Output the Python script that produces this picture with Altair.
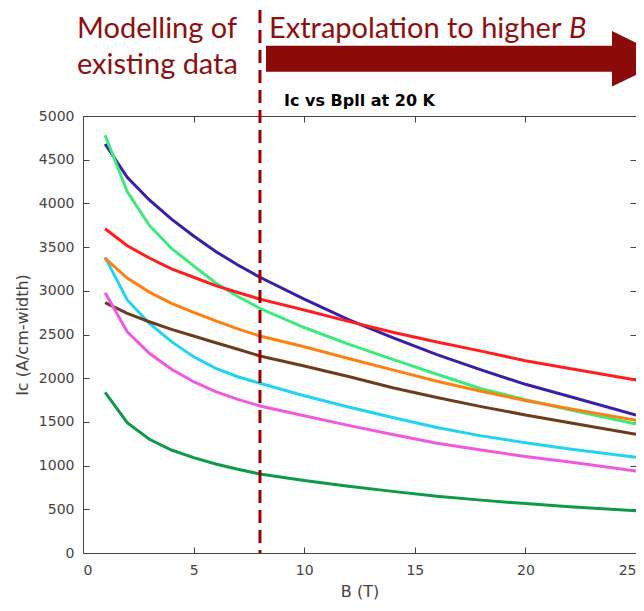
import altair as alt
import pandas as pd

# ---- data ----
B = [1, 2, 3, 4, 5, 6, 7, 8, 10, 12, 14, 16, 18, 20, 22, 25]
blue = [4680, 4298, 4039, 3820, 3627, 3450, 3295, 3155, 2905, 2670, 2465, 2270, 2095, 1930, 1790, 1579]
green = [4780, 4134, 3748, 3486, 3285, 3090, 2935, 2800, 2580, 2390, 2215, 2045, 1880, 1755, 1640, 1476]
red = [3710, 3515, 3375, 3250, 3155, 3060, 2980, 2905, 2780, 2650, 2525, 2415, 2310, 2200, 2110, 1979]
orange = [3370, 3145, 2985, 2857, 2752, 2656, 2565, 2483, 2360, 2225, 2095, 1965, 1850, 1745, 1650, 1518]
brown = [2864, 2742, 2646, 2559, 2483, 2406, 2331, 2254, 2140, 2020, 1890, 1780, 1675, 1580, 1490, 1358]
cyan = [3383, 2895, 2628, 2418, 2246, 2113, 2017, 1942, 1800, 1670, 1550, 1435, 1340, 1262, 1190, 1095]
magenta = [2978, 2532, 2285, 2102, 1960, 1846, 1758, 1682, 1570, 1460, 1355, 1255, 1178, 1105, 1040, 938]
dkgreen = [1838, 1491, 1301, 1178, 1091, 1018, 958, 904, 830, 765, 705, 650, 605, 565, 530, 484]

series_names = ["s1", "s2", "s3", "s4", "s5", "s6", "s7", "s8"]
series_values = [blue, green, red, cyan, orange, brown, magenta, dkgreen]
series_colors = ["#3C1EA8", "#3CEB7A", "#FF1F1F", "#22D3F2", "#FF8012", "#6E3B1E", "#F05ADF", "#0E9A47"]

x_ticks = [0, 5, 10, 15, 20, 25]
y_ticks = [0, 500, 1000, 1500, 2000, 2500, 3000, 3500, 4000, 4500, 5000]
split_B = [8]

title_text = "Ic vs Bpll at 20 K"
x_title = "B (T)"
y_title = "Ic (A/cm-width)"
left_text = ["Modelling of", "existing data"]
left_y = [-78, -42]
right_text = "Extrapolation to higher"
right_italic = "B"

rows = []
for name, vals in zip(series_names, series_values):
    for b, v in zip(B, vals):
        rows.append({"B": b, "Ic": v, "series": name})
df = pd.DataFrame(rows)

W, H = 553, 437
FONT = "DejaVu Sans"
AX = "#444444"
DARKRED = "#8C1010"

xscale = alt.Scale(domain=[0, 25], nice=False)
yscale = alt.Scale(domain=[0, 5000], nice=False)

xaxis = alt.Axis(values=x_ticks, orient="bottom", offset=-6, tickSize=6, domain=False, grid=False,
                 tickColor=AX, labelFont=FONT, labelFontSize=14, labelColor=AX, labelPadding=10,
                 title=x_title, titleFont=FONT, titleFontSize=16, titleFontWeight="normal",
                 titleColor=AX, titlePadding=6)
yaxis = alt.Axis(values=y_ticks, orient="left", offset=-6, tickSize=6, domain=False, grid=False,
                 format="d", tickColor=AX, labelFont=FONT, labelFontSize=14, labelColor=AX,
                 labelPadding=9, title=y_title, titleFont=FONT, titleFontSize=16,
                 titleFontWeight="normal", titleColor=AX, titlePadding=8)

lines = alt.Chart(df).mark_line(strokeWidth=3, clip=True).encode(
    x=alt.X("B:Q", scale=xscale, axis=xaxis),
    y=alt.Y("Ic:Q", scale=yscale, axis=yaxis),
    color=alt.Color("series:N", scale=alt.Scale(domain=series_names, range=series_colors), legend=None),
    order=alt.Order("B:Q"),
)

box_axes = alt.Chart(df).mark_line(opacity=0).encode(
    x=alt.X("B:Q", scale=xscale, axis=alt.Axis(values=x_ticks, orient="top", offset=-6, tickSize=6,
                                                domain=False, grid=False, labels=False, title=None,
                                                tickColor=AX)),
    y=alt.Y("Ic:Q", scale=yscale, axis=alt.Axis(values=y_ticks, orient="right", offset=-6, tickSize=6,
                                                 domain=False, grid=False, labels=False, title=None,
                                                 tickColor=AX)),
    detail="series:N",
)

rule = alt.Chart(pd.DataFrame({"B": split_B})).mark_rule(
    color="#990000", strokeWidth=3, strokeDash=[13, 7]
).encode(
    x=alt.X("B:Q", scale=xscale, axis=None),
    y=alt.value(-106),
    y2=alt.value(H),
)

title = alt.Chart(pd.DataFrame({"t": [title_text]})).mark_text(
    font=FONT, fontSize=16, fontWeight="bold", color="black", align="center", baseline="alphabetic"
).encode(text="t:N", x=alt.value(W / 2), y=alt.value(-10))

ann_left = alt.Chart(pd.DataFrame({"t": left_text, "yy": left_y})).mark_text(
    font="Lato", fontSize=29, color=DARKRED, align="left", baseline="alphabetic"
).encode(text="t:N", x=alt.value(-6), y=alt.Y("yy:Q", scale=None))

ann_right = alt.Chart(pd.DataFrame({"t": [right_text]})).mark_text(
    font="Lato", fontSize=29, color=DARKRED, align="left", baseline="alphabetic"
).encode(text="t:N", x=alt.value(186), y=alt.value(-78))

ann_B = alt.Chart(pd.DataFrame({"t": [right_italic]})).mark_text(
    font="Lato", fontSize=29, fontStyle="italic", color=DARKRED, align="left", baseline="alphabetic"
).encode(text="t:N", x=alt.value(486), y=alt.value(-78))

arrow_path = ("M -1 -0.0645 L 0.717 -0.0645 L 0.717 -0.138 L 1 0 L 0.717 0.138 "
              "L 0.717 0.0645 L -1 0.0645 Z")
arrow = alt.Chart(pd.DataFrame({"a": [1]})).mark_point(
    shape=arrow_path, size=403 * 403, filled=True, fill="#8B0A0A", strokeWidth=0, opacity=1
).encode(x=alt.value(384.5), y=alt.value(-57.2))

chart = alt.layer(lines, box_axes, rule, title, ann_left, ann_right, ann_B, arrow).resolve_axis(
    x="independent", y="independent"
).properties(
    width=W, height=H,
    autosize=alt.AutoSizeParams(type="none"),
    padding={"left": 75, "top": 108, "right": 0, "bottom": 50},
).configure_view(stroke=AX, strokeWidth=1)

chart.save("out.html", embed_options={"renderer": "svg", "actions": False})
